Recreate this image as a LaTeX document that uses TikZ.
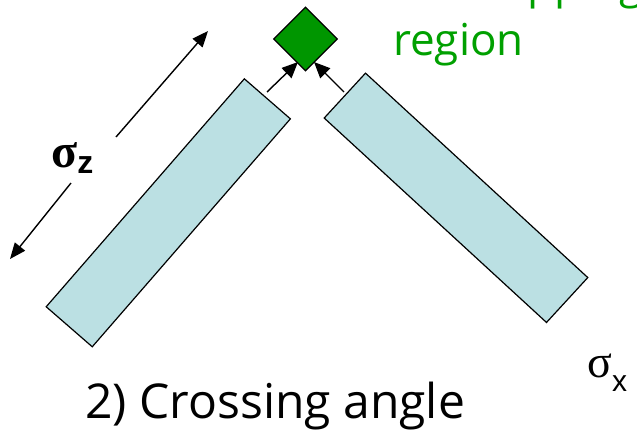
\documentclass[tikz,border=0pt]{standalone}
\usepackage{fontspec}
\setmainfont{Open Sans}
\newfontfamily\symfont{Liberation Serif}
\newfontfamily\subfont{Liberation Sans}
\usepackage{xcolor}
\usetikzlibrary{positioning, arrows.meta, shapes.geometric}
\definecolor{beamblue}{RGB}{187,224,227}
\definecolor{spotgreen}{RGB}{0,150,0}
\definecolor{labelgreen}{RGB}{0,160,0}

\begin{document}
\begin{tikzpicture}[
    x=1pt, y=-1pt,
    beam/.style={draw, fill=beamblue, line width=1.2pt, minimum width=302pt, minimum height=61pt, inner sep=0pt},
    spot/.style={draw, diamond, fill=spotgreen, line width=1.2pt, minimum size=64pt, inner sep=0pt},
    push/.style={line width=1.4pt, -{Triangle[length=16pt,width=14pt]}},
    span/.style={line width=1.4pt, -{Triangle[length=16pt,width=13pt]}},
]
\useasboundingbox (0,0) rectangle (637,434);
\clip (0,0) rectangle (637,434);

% Beams
\node[beam, rotate=49] (left) at (168.3,212.8) {};
\node[beam, rotate=-42.6] (right) at (456,197.8) {};

% Overlap region
\node[spot] (ip) at (305.5,39) {};

% Beams moving towards the spot
\coordinate (la) at (267,92);
\coordinate (lb) at (298,62);
\coordinate (ra) at (344,92);
\coordinate (rb) at (314,62);
\draw[push] (la) -- (lb);
\draw[push] (ra) -- (rb);

% Bunch length
\coordinate (zup0) at (116,137);
\coordinate (zup1) at (208,31);
\coordinate (zdn0) at (71,183);
\coordinate (zdn1) at (10,259);
\draw[span] (zup0) -- (zup1);
\draw[span] (zdn0) -- (zdn1);
\node[anchor=base west, inner sep=0pt] (sz) at (51,167) {\symfont\bfseries\fontsize{48}{48}\selectfont σ\raisebox{-6pt}{\subfont\bfseries\fontsize{32}{32}\selectfont z}};
\node[anchor=base west, inner sep=0pt] (sx) at (587,377) {\symfont\fontsize{46}{46}\selectfont σ\raisebox{-14pt}{\subfont\fontsize{30}{30}\selectfont x}};

% Labels
\node[anchor=base west, inner sep=0pt, text=labelgreen, font=\fontsize{44}{54}\selectfont] (olap) at (393,-2) {Overlapping};
\node[anchor=base west, inner sep=0pt, text=labelgreen, font=\fontsize{44}{54}\selectfont] (reg) at (393,55) {region};
\node[anchor=base west, inner sep=0pt, font=\fontsize{48}{48}\selectfont] (title) at (85,418) {2) Crossing angle};
\end{tikzpicture}
\end{document}
